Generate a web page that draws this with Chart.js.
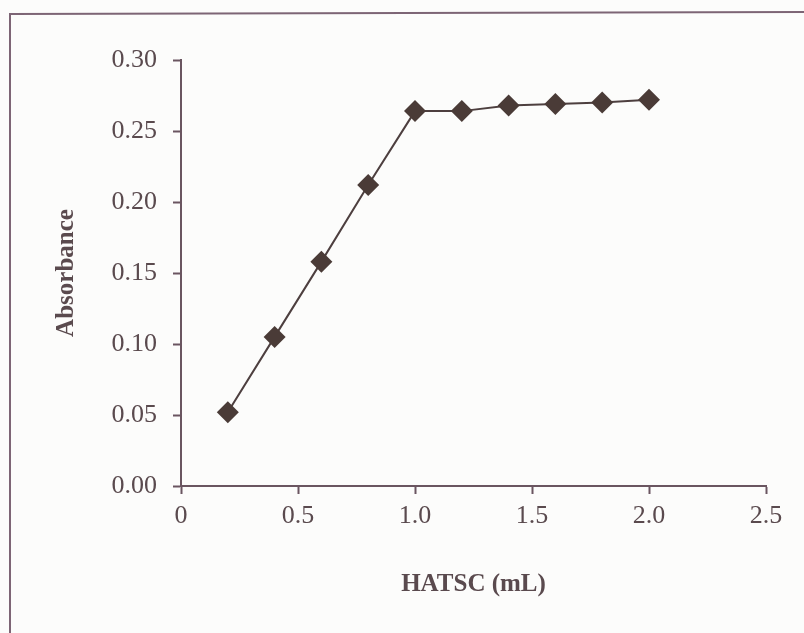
<!DOCTYPE html>
<html>
<head>
<meta charset="utf-8">
<script src="https://cdn.jsdelivr.net/npm/chart.js@4/dist/chart.umd.min.js"></script>
<style>
  html,body{margin:0;padding:0;background:#fcfcfb;}
  #wrap{width:804px;height:633px;position:relative;}
</style>
</head>
<body>
<div id="wrap"><canvas id="c" width="804" height="633"></canvas></div>
<script>
const volumes = [0.2, 0.4, 0.6, 0.8, 1.0, 1.2, 1.4, 1.6, 1.8, 2.0];
const absorbance = [0.052, 0.105, 0.158, 0.212, 0.264, 0.264, 0.268, 0.269, 0.270, 0.272];
const xTickLabels = ["0", "0.5", "1.0", "1.5", "2.0", "2.5"];
const yTickLabels = ["0.00", "0.05", "0.10", "0.15", "0.20", "0.25", "0.30"];

const textColor = '#5a4a4e';
const axisColor = '#6a5560';
const serif = "'Liberation Serif', 'Times New Roman', serif";

const framePlugin = {
  id: 'frame',
  beforeDraw(chart) {
    const ctx = chart.ctx;
    ctx.save();
    ctx.fillStyle = '#fcfcfb';
    ctx.fillRect(0, 0, chart.width, chart.height);
    ctx.strokeStyle = '#7d6575';
    ctx.lineWidth = 2;
    ctx.beginPath();
    ctx.moveTo(10, 640);
    ctx.lineTo(10, 14);
    ctx.lineTo(810, 12);
    ctx.stroke();
    ctx.restore();
  }
};

new Chart(document.getElementById('c'), {
  type: 'scatter',
  data: {
    datasets: [{
      data: volumes.map((v, i) => ({x: v, y: absorbance[i]})),
      showLine: true,
      borderColor: '#4d3f3f',
      borderWidth: 2,
      pointStyle: 'rectRot',
      pointRadius: 11,
      pointHoverRadius: 11,
      pointBackgroundColor: '#4a3b37',
      pointBorderColor: '#4a3b37',
      pointBorderWidth: 0
    }]
  },
  options: {
    responsive: false,
    animation: false,
    devicePixelRatio: 1,
    layout: {padding: {top: 60, right: 38, left: 0, bottom: 0}},
    plugins: {legend: {display: false}, tooltip: {enabled: false}},
    scales: {
      x: {
        type: 'linear',
        min: 0, max: 2.5,
        afterFit(s) { s.height = 147; },
        border: {display: true, color: axisColor, width: 2},
        grid: {display: true, drawOnChartArea: false, drawTicks: true, tickLength: 8, tickColor: axisColor, tickWidth: 2},
        ticks: {
          stepSize: 0.5,
          padding: 7,
          color: textColor,
          font: {family: serif, size: 26},
          callback: (v, i) => xTickLabels[i]
        },
        title: {
          display: true,
          text: 'HATSC (mL)',
          color: textColor,
          font: {family: serif, size: 25, weight: 'bold'},
          padding: {top: 0, bottom: 33}
        }
      },
      y: {
        min: 0, max: 0.3,
        afterFit(s) { s.width = 181; },
        border: {display: true, color: axisColor, width: 2},
        grid: {display: true, drawOnChartArea: false, drawTicks: true, tickLength: 8, tickColor: axisColor, tickWidth: 2},
        ticks: {
          stepSize: 0.05,
          padding: 16,
          color: textColor,
          font: {family: serif, size: 26},
          callback: (v, i) => yTickLabels[i]
        },
        title: {
          display: true,
          text: 'Absorbance',
          color: textColor,
          font: {family: serif, size: 25, weight: 'bold'},
          padding: {top: 52, bottom: 0}
        }
      }
    }
  },
  plugins: [framePlugin]
});
</script>
</body>
</html>
